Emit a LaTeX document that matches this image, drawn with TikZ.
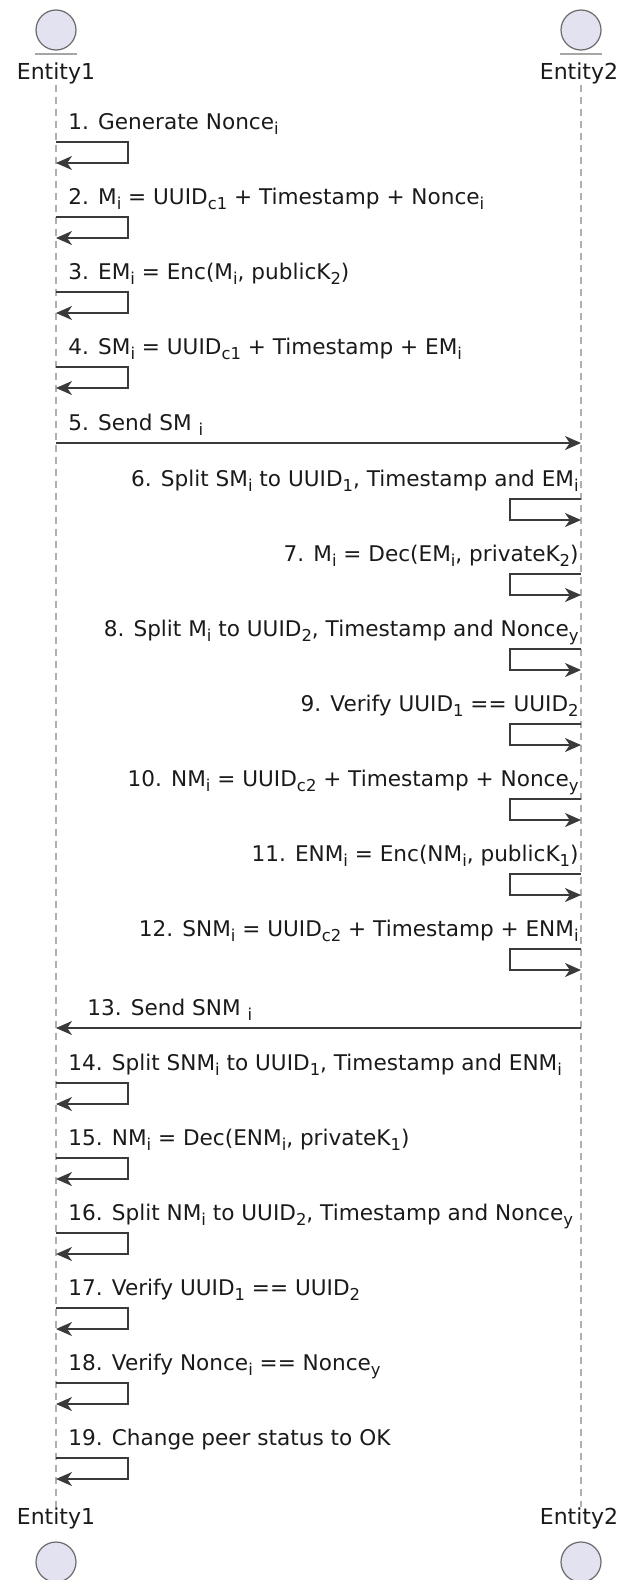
\documentclass[tikz,border=0pt]{standalone}
\usepackage{fontspec}
\setmainfont{DejaVu Sans}
\usepackage{tikz}
\usetikzlibrary{
  arrows.meta,
  positioning
}
\definecolor{entfill}{HTML}{E2E2F0}
\definecolor{entdraw}{HTML}{6A6A6A}
\definecolor{lifegrey}{HTML}{B0B0B0}
\definecolor{arrowdark}{HTML}{3A3A3A}
\definecolor{textdark}{HTML}{1A1A1A}
\newcommand{\lo}[1]{\raisebox{-2.6pt}{\fontsize{8.2}{9}\selectfont #1}}
\tikzset{
  entity/.style={
    circle, draw=entdraw, fill=entfill, line width=0.6pt,
    minimum size=20pt, inner sep=0pt
  },
  entbar/.style={
    draw=entdraw!60, line width=1pt
  },
  entlabel/.style={
    font=\fontsize{11}{13}\selectfont, text=textdark, inner sep=0pt
  },
  lifeline/.style={
    draw=lifegrey, line width=0.7pt, dash pattern=on 3.5pt off 2.5pt
  },
  msgarrow/.style={
    -{Stealth[length=8pt,width=7pt,inset=2.4pt]}, line width=0.9pt, color=arrowdark
  },
  msglabel/.style={
    font=\fontsize{10.8}{12}\selectfont, text=textdark, inner sep=0pt
  },
}

\begin{document}
\begin{tikzpicture}[x=0.5pt, y=-0.5pt]
  \useasboundingbox (0,0) rectangle (620,1580);
  \node[entity] (e1top) at (56,30) {};
  \node[entity] (e2top) at (581,30) {};
  \draw[entbar] ([xshift=-10.5pt,yshift=-1.5pt]e1top.south) -- ([xshift=10.5pt,yshift=-1.5pt]e1top.south);
  \draw[entbar] ([xshift=-10.5pt,yshift=-1.5pt]e2top.south) -- ([xshift=10.5pt,yshift=-1.5pt]e2top.south);
  \node[entlabel, below=6pt of e1top] (e1name) {Entity1};
  \node[entlabel, below=6pt of e2top, xshift=-1pt] (e2name) {Entity2};
  \node[entity] (e1bot) at (56,1562) {};
  \node[entity] (e2bot) at (581,1562) {};
  \node[entlabel, above=6pt of e1bot] (e1botname) {Entity1};
  \node[entlabel, above=6pt of e2bot, xshift=-1pt] (e2botname) {Entity2};
  \draw[lifeline] (e1name.south) -- (e1name.south |- e1botname.north);
  \draw[lifeline] (e2top.south |- e2name.south) -- (e2top.south |- e2botname.north);

  \coordinate (s1) at (56,142);
  \coordinate (s2) at (56,217);
  \coordinate (s3) at (56,292);
  \coordinate (s4) at (56,367);
  \coordinate (a5) at (56,443);
  \coordinate (b5) at (581,443);
  \coordinate (s6) at (581,499);
  \coordinate (s7) at (581,574);
  \coordinate (s8) at (581,649);
  \coordinate (s9) at (581,724);
  \coordinate (s10) at (581,799);
  \coordinate (s11) at (581,874);
  \coordinate (s12) at (581,949);
  \coordinate (a13) at (581,1028);
  \coordinate (b13) at (56,1028);
  \coordinate (s14) at (56,1083);
  \coordinate (s15) at (56,1158);
  \coordinate (s16) at (56,1233);
  \coordinate (s17) at (56,1308);
  \coordinate (s18) at (56,1383);
  \coordinate (s19) at (56,1458);

  \node[msglabel, anchor=base west] (m1) at ([xshift=6pt,yshift=6.5pt]s1) {1. Generate Nonce\lo{i}};
  \draw[msgarrow] (s1) -- ++(72,0) -- ++(0,21) -- ++(-72,0);
  \node[msglabel, anchor=base west] (m2) at ([xshift=6pt,yshift=6.5pt]s2) {2. M\lo{i} = UUID\lo{c1} + Timestamp + Nonce\lo{i}};
  \draw[msgarrow] (s2) -- ++(72,0) -- ++(0,21) -- ++(-72,0);
  \node[msglabel, anchor=base west] (m3) at ([xshift=6pt,yshift=6.5pt]s3) {3. EM\lo{i} = Enc(M\lo{i}, publicK\lo{2})};
  \draw[msgarrow] (s3) -- ++(72,0) -- ++(0,21) -- ++(-72,0);
  \node[msglabel, anchor=base west] (m4) at ([xshift=6pt,yshift=6.5pt]s4) {4. SM\lo{i} = UUID\lo{c1} + Timestamp + EM\lo{i}};
  \draw[msgarrow] (s4) -- ++(72,0) -- ++(0,21) -- ++(-72,0);
  \node[msglabel, anchor=base west] (m5) at ([xshift=6pt,yshift=6.5pt]a5) {5. Send SM \lo{i}};
  \draw[msgarrow] (a5) -- (b5);

  \node[msglabel, anchor=base east] (m6) at ([xshift=-1pt,yshift=6.5pt]s6) {6. Split SM\lo{i} to UUID\lo{1}, Timestamp and EM\lo{i}};
  \draw[msgarrow] (s6) -- ++(-71,0) -- ++(0,21) -- ++(71,0);
  \node[msglabel, anchor=base east] (m7) at ([xshift=-1pt,yshift=6.5pt]s7) {7. M\lo{i} = Dec(EM\lo{i}, privateK\lo{2})};
  \draw[msgarrow] (s7) -- ++(-71,0) -- ++(0,21) -- ++(71,0);
  \node[msglabel, anchor=base east] (m8) at ([xshift=-1pt,yshift=6.5pt]s8) {8. Split M\lo{i} to UUID\lo{2}, Timestamp and Nonce\lo{y}};
  \draw[msgarrow] (s8) -- ++(-71,0) -- ++(0,21) -- ++(71,0);
  \node[msglabel, anchor=base east] (m9) at ([xshift=-1pt,yshift=6.5pt]s9) {9. Verify UUID\lo{1} == UUID\lo{2}};
  \draw[msgarrow] (s9) -- ++(-71,0) -- ++(0,21) -- ++(71,0);
  \node[msglabel, anchor=base east] (m10) at ([xshift=-1pt,yshift=6.5pt]s10) {10. NM\lo{i} = UUID\lo{c2} + Timestamp + Nonce\lo{y}};
  \draw[msgarrow] (s10) -- ++(-71,0) -- ++(0,21) -- ++(71,0);
  \node[msglabel, anchor=base east] (m11) at ([xshift=-1pt,yshift=6.5pt]s11) {11. ENM\lo{i} = Enc(NM\lo{i}, publicK\lo{1})};
  \draw[msgarrow] (s11) -- ++(-71,0) -- ++(0,21) -- ++(71,0);
  \node[msglabel, anchor=base east] (m12) at ([xshift=-1pt,yshift=6.5pt]s12) {12. SNM\lo{i} = UUID\lo{c2} + Timestamp + ENM\lo{i}};
  \draw[msgarrow] (s12) -- ++(-71,0) -- ++(0,21) -- ++(71,0);
  \node[msglabel, anchor=base west] (m13) at ([xshift=15.5pt,yshift=6.5pt]b13) {13. Send SNM \lo{i}};
  \draw[msgarrow] (a13) -- (b13);

  \node[msglabel, anchor=base west] (m14) at ([xshift=6pt,yshift=6.5pt]s14) {14. Split SNM\lo{i} to UUID\lo{1}, Timestamp and ENM\lo{i}};
  \draw[msgarrow] (s14) -- ++(72,0) -- ++(0,21) -- ++(-72,0);
  \node[msglabel, anchor=base west] (m15) at ([xshift=6pt,yshift=6.5pt]s15) {15. NM\lo{i} = Dec(ENM\lo{i}, privateK\lo{1})};
  \draw[msgarrow] (s15) -- ++(72,0) -- ++(0,21) -- ++(-72,0);
  \node[msglabel, anchor=base west] (m16) at ([xshift=6pt,yshift=6.5pt]s16) {16. Split NM\lo{i} to UUID\lo{2}, Timestamp and Nonce\lo{y}};
  \draw[msgarrow] (s16) -- ++(72,0) -- ++(0,21) -- ++(-72,0);
  \node[msglabel, anchor=base west] (m17) at ([xshift=6pt,yshift=6.5pt]s17) {17. Verify UUID\lo{1} == UUID\lo{2}};
  \draw[msgarrow] (s17) -- ++(72,0) -- ++(0,21) -- ++(-72,0);
  \node[msglabel, anchor=base west] (m18) at ([xshift=6pt,yshift=6.5pt]s18) {18. Verify Nonce\lo{i} == Nonce\lo{y}};
  \draw[msgarrow] (s18) -- ++(72,0) -- ++(0,21) -- ++(-72,0);
  \node[msglabel, anchor=base west] (m19) at ([xshift=6pt,yshift=6.5pt]s19) {19. Change peer status to OK};
  \draw[msgarrow] (s19) -- ++(72,0) -- ++(0,21) -- ++(-72,0);
\end{tikzpicture}
\end{document}
